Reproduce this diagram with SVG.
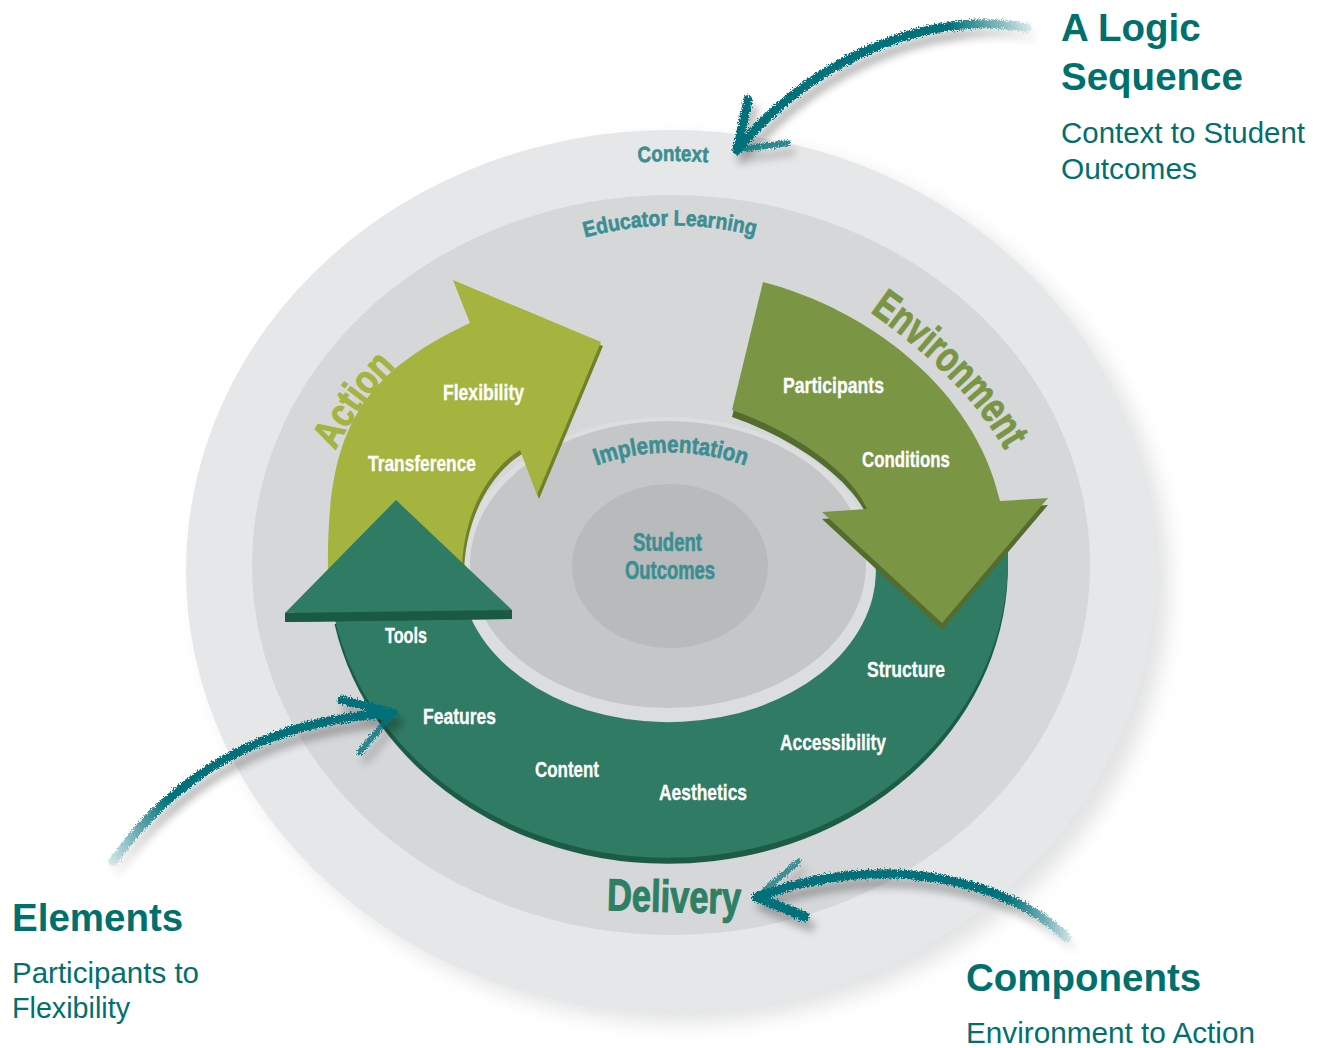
<svg xmlns="http://www.w3.org/2000/svg" width="1319" height="1048" viewBox="0 0 1319 1048">
<defs>
<style>
.lbl{font-family:"Liberation Sans",Arial,sans-serif;font-weight:bold;font-size:21.5px;fill:#ffffff;stroke:#ffffff;stroke-width:0.3px;}
.ring{font-family:"Liberation Sans",Arial,sans-serif;font-weight:bold;fill:#3b8e91;stroke:#3b8e91;stroke-width:0.6px;}
.big{font-family:"Liberation Sans",Arial,sans-serif;font-weight:bold;stroke-width:1.1px;}
.title{font-family:"Liberation Sans",Arial,sans-serif;font-weight:bold;font-size:38.5px;fill:#00706f;}
.sub{font-family:"Liberation Sans",Arial,sans-serif;font-weight:normal;font-size:30px;fill:#00706f;}
.hand{fill:none;stroke-linecap:round;stroke-linejoin:round;}
</style>
<filter id="bigshadow" filterUnits="userSpaceOnUse" x="0" y="0" width="1319" height="1048">
<feGaussianBlur stdDeviation="10"/>
</filter>
<filter id="rough" filterUnits="userSpaceOnUse" x="0" y="0" width="1319" height="1048">
<feTurbulence type="fractalNoise" baseFrequency="0.7" numOctaves="3" seed="5" result="n"/>
<feDisplacementMap in="SourceGraphic" in2="n" scale="7" xChannelSelector="R" yChannelSelector="G" result="d"/>
<feGaussianBlur in="SourceAlpha" stdDeviation="4"/>
<feOffset dx="5" dy="9" result="sh"/>
<feComponentTransfer in="sh" result="sh2"><feFuncA type="linear" slope="0.3"/></feComponentTransfer>
<feMerge><feMergeNode in="sh2"/><feMergeNode in="d"/></feMerge>
</filter>
<linearGradient id="g1" gradientUnits="userSpaceOnUse" x1="1030" y1="28" x2="950" y2="22">
<stop offset="0" stop-color="#00717a" stop-opacity="0.15"/><stop offset="1" stop-color="#00717a"/>
</linearGradient>
<linearGradient id="g2" gradientUnits="userSpaceOnUse" x1="110" y1="866" x2="165" y2="795">
<stop offset="0" stop-color="#00717a" stop-opacity="0.15"/><stop offset="1" stop-color="#00717a"/>
</linearGradient>
<linearGradient id="g3" gradientUnits="userSpaceOnUse" x1="1070" y1="940" x2="1005" y2="898">
<stop offset="0" stop-color="#00717a" stop-opacity="0.15"/><stop offset="1" stop-color="#00717a"/>
</linearGradient>
<path id="p-context" d="M 615,165 Q 673,157 731,165"/>
<path id="p-educator" d="M 570,242 Q 670,210 770,240"/>
<path id="p-impl" d="M 585,470 Q 670,435 757,470"/>
<path id="p-action" d="M 330,462 Q 355,405 405,358"/>
<path id="p-env" d="M 850,298 L 870,312 Q 963,377 1005,450 L 1017,471"/>
</defs>

<rect width="1319" height="1048" fill="#ffffff"/>

<g id="context">
<ellipse cx="684" cy="582" rx="485" ry="441" fill="#cfd0d2" opacity="0.6" filter="url(#bigshadow)"/>
<ellipse cx="671" cy="571" rx="485" ry="441" fill="#e6e7e8"/>
<text class="ring" font-size="22"><textPath href="#p-context" startOffset="50%" text-anchor="middle" textLength="70" lengthAdjust="spacingAndGlyphs">Context</textPath></text>
</g>

<g id="educator-learning">
<ellipse cx="671" cy="565" rx="419" ry="370" fill="#d6d7d9"/>
<text class="ring" font-size="22"><textPath href="#p-educator" startOffset="50%" text-anchor="middle" textLength="172" lengthAdjust="spacingAndGlyphs">Educator Learning</textPath></text>
</g>

<g id="implementation">
<ellipse cx="668" cy="569.5" rx="208" ry="152.5" fill="#dcdddf"/>
<ellipse cx="668" cy="564.5" rx="198" ry="143.5" fill="#c5c6c8"/>
<text class="ring" font-size="24"><textPath href="#p-impl" startOffset="50%" text-anchor="middle" textLength="152" lengthAdjust="spacingAndGlyphs">Implementation</textPath></text>
</g>

<g id="student-outcomes">
<ellipse cx="670" cy="566" rx="98" ry="82" fill="#b9babc"/>
<text class="ring" font-size="25" x="633" y="551" textLength="69" lengthAdjust="spacingAndGlyphs">Student</text>
<text class="ring" font-size="25" x="625" y="579" textLength="90" lengthAdjust="spacingAndGlyphs">Outcomes</text>
</g>

<g id="action">
<path d="M 328,572 C 326,430 360,375 470,323 L 453,280 L 601,342 L 537,495 L 520,450 C 485,472 462,520 462,572 Z" fill="#727f2b" transform="translate(2,4)"/>
<path d="M 328,572 C 326,430 360,375 470,323 L 453,280 L 601,342 L 537,495 L 520,450 C 485,472 462,520 462,572 Z" fill="#a4b43e"/>
<text class="big" font-size="40" fill="#a4b43e" stroke="#a4b43e"><textPath href="#p-action" startOffset="50%" text-anchor="middle" textLength="104" lengthAdjust="spacingAndGlyphs">Action</textPath></text>
<text class="lbl" x="443" y="400" textLength="81" lengthAdjust="spacingAndGlyphs">Flexibility</text>
<text class="lbl" x="368" y="471" textLength="108" lengthAdjust="spacingAndGlyphs">Transference</text>
</g>

<g id="delivery">
<path d="M 334.5,618 A 340 298 0 0 0 1007.2,540 L 872.1,540 A 208 152.5 0 0 1 470.8,618 Z" fill="#1c5c47" transform="translate(0,6)"/>
<path d="M 334.5,618 A 340 298 0 0 0 1007.2,540 L 872.1,540 A 208 152.5 0 0 1 470.8,618 Z" fill="#2f7b64"/>
<polygon points="285,622 396,509 512,619" fill="#1a5a45"/>
<polygon points="285,613 285,622 512,619 512,610" fill="#1a5a45"/>
<polygon points="285,613 396,500 512,610" fill="#2f7b64"/>
<text class="lbl" x="385" y="643" textLength="42" lengthAdjust="spacingAndGlyphs">Tools</text>
<text class="lbl" x="423" y="724" textLength="73" lengthAdjust="spacingAndGlyphs">Features</text>
<text class="lbl" x="535" y="777" textLength="64" lengthAdjust="spacingAndGlyphs">Content</text>
<text class="lbl" x="659" y="800" textLength="88" lengthAdjust="spacingAndGlyphs">Aesthetics</text>
<text class="lbl" x="780" y="750" textLength="106" lengthAdjust="spacingAndGlyphs">Accessibility</text>
<text class="lbl" x="867" y="677" textLength="78" lengthAdjust="spacingAndGlyphs">Structure</text>
<text class="big" font-size="45" fill="#2e8064" stroke="#2e8064" x="607" y="912" textLength="134" lengthAdjust="spacingAndGlyphs" transform="rotate(1.5 674 900)">Delivery</text>
</g>

<g id="environment">
<path d="M 763,282 C 870,310 975,390 1000,501 L 1048,498 L 942,623 L 822,512 L 867,509 C 850,470 790,430 732,410 Z" fill="#546d2f" transform="translate(0,7)"/>
<path d="M 763,282 C 870,310 975,390 1000,501 L 1048,498 L 942,623 L 822,512 L 867,509 C 850,470 790,430 732,410 Z" fill="#7a9645"/>
<text class="big" font-size="43" fill="#7a9645" stroke="#7a9645"><textPath href="#p-env" startOffset="50%" text-anchor="middle" textLength="195" lengthAdjust="spacingAndGlyphs">Environment</textPath></text>
<text class="lbl" x="783" y="393" textLength="101" lengthAdjust="spacingAndGlyphs">Participants</text>
<text class="lbl" x="862" y="467" textLength="88" lengthAdjust="spacingAndGlyphs">Conditions</text>
</g>

<g id="connectors">
<g filter="url(#rough)">
<path class="hand" d="M 1027,28 C 940,10 820,50 737,150" stroke="url(#g1)" stroke-width="9"/>
<path class="hand" d="M 737,150 L 748,100" stroke="#00717a" stroke-width="9"/>
<path class="hand" d="M 737,150 L 788,143" stroke="#00717a" stroke-width="6" stroke-opacity="0.8"/>
</g>
<g filter="url(#rough)">
<path class="hand" d="M 113,862 C 170,780 260,720 393,713" stroke="url(#g2)" stroke-width="9"/>
<path class="hand" d="M 393,713 L 342,700" stroke="#00717a" stroke-width="9"/>
<path class="hand" d="M 393,713 L 360,752" stroke="#00717a" stroke-width="6" stroke-opacity="0.8"/>
</g>
<g filter="url(#rough)">
<path class="hand" d="M 1067,938 C 1010,880 880,850 757,897" stroke="url(#g3)" stroke-width="9"/>
<path class="hand" d="M 757,897 L 805,917" stroke="#00717a" stroke-width="10"/>
<path class="hand" d="M 757,897 L 798,862" stroke="#00717a" stroke-width="6" stroke-opacity="0.7"/>
</g>
</g>

<g id="logic-sequence">
<text class="title" x="1061" y="41">A Logic</text>
<text class="title" x="1061" y="90">Sequence</text>
<text class="sub" x="1061" y="143" textLength="244" lengthAdjust="spacingAndGlyphs">Context to Student</text>
<text class="sub" x="1061" y="179" textLength="136" lengthAdjust="spacingAndGlyphs">Outcomes</text>
</g>

<g id="elements">
<text class="title" x="12" y="931">Elements</text>
<text class="sub" x="12" y="983" textLength="187" lengthAdjust="spacingAndGlyphs">Participants to</text>
<text class="sub" x="12" y="1018" textLength="118" lengthAdjust="spacingAndGlyphs">Flexibility</text>
</g>

<g id="components">
<text class="title" x="966" y="991">Components</text>
<text class="sub" x="966" y="1043" textLength="289" lengthAdjust="spacingAndGlyphs">Environment to Action</text>
</g>
</svg>
